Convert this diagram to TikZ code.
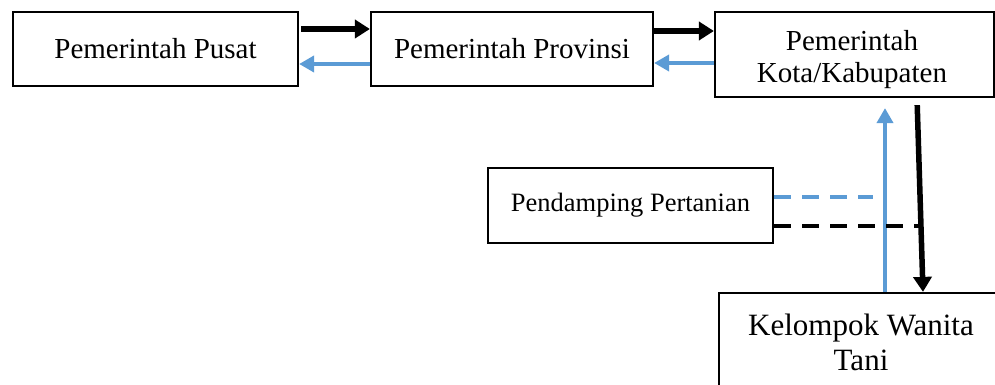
\documentclass[tikz,border=0pt]{standalone}
\usepackage{fontspec}
\setmainfont{Liberation Serif}
\usetikzlibrary{arrows.meta}
\definecolor{lblue}{RGB}{91,155,213}
\begin{document}
\begin{tikzpicture}[x=1pt,y=-1pt,
  box/.style={draw=black,line width=2.2pt,inner sep=0pt,align=center},
  txt/.style={inner sep=0pt,align=center},
  blk/.style={draw=black,line width=5.5pt,-{Triangle[length=15pt,width=18pt]}},
  blu/.style={draw=lblue,line width=4.5pt,-{Triangle[length=15pt,width=16pt]}},
  dsh/.style={line width=3.8pt,dash pattern=on 17pt off 11pt},
]
\useasboundingbox (0,0) rectangle (995,385);
\clip (0,0) rectangle (995,385);
% boxes
\node[box,minimum width=285pt,minimum height=74pt,font=\fontsize{29}{33}\selectfont] (b1) at (155.5,49) {Pemerintah Pusat};
\node[box,minimum width=282pt,minimum height=74pt,font=\fontsize{29}{33}\selectfont] (b2) at (512,49) {Pemerintah Provinsi};
\node[box,minimum width=279pt,minimum height=85pt] (b3) at (854.5,54.5) {};
\node[txt,font=\fontsize{29}{32}\selectfont] (b3t) at (852,60) {Pemerintah\\Kota/Kabupaten};
\node[box,minimum width=285pt,minimum height=75pt,font=\fontsize{26.5}{30}\selectfont] (b4) at (630.5,205.5) {Pendamping Pertanian};
\node[box,minimum width=284pt,minimum height=102pt] (b5) at (861,344) {};
\node[txt,font=\fontsize{31}{35}\selectfont] (b5t) at (861,342) {Kelompok Wanita\\Tani};
% horizontal arrows
\draw[blk] (b1.east |- 0,29) ++(2,0) -- (b2.west |- 0,29);
\draw[blu] (b2.west |- 0,64) -- (b1.east |- 0,64);
\draw[blk] (b2.east |- 0,31) -- (b3.west |- 0,31);
\draw[blu] (b3.west |- 0,63) -- (b2.east |- 0,63);
% vertical arrows
\draw[blu,shorten >=10pt] (b5.north -| 885,0) -- (b3.south -| 885,0);
\draw[blk,shorten <=7pt] (b3.south -| 917,0) -- (b5.north -| 923,0);
% dashed connectors
\coordinate (bd) at (873,197);
\coordinate (kd) at (921,226);
\draw[dsh,draw=lblue] (b4.east |- 0,197) -- (bd);
\draw[dsh,draw=black] (b4.east |- 0,226) -- (kd);
\end{tikzpicture}
\end{document}
